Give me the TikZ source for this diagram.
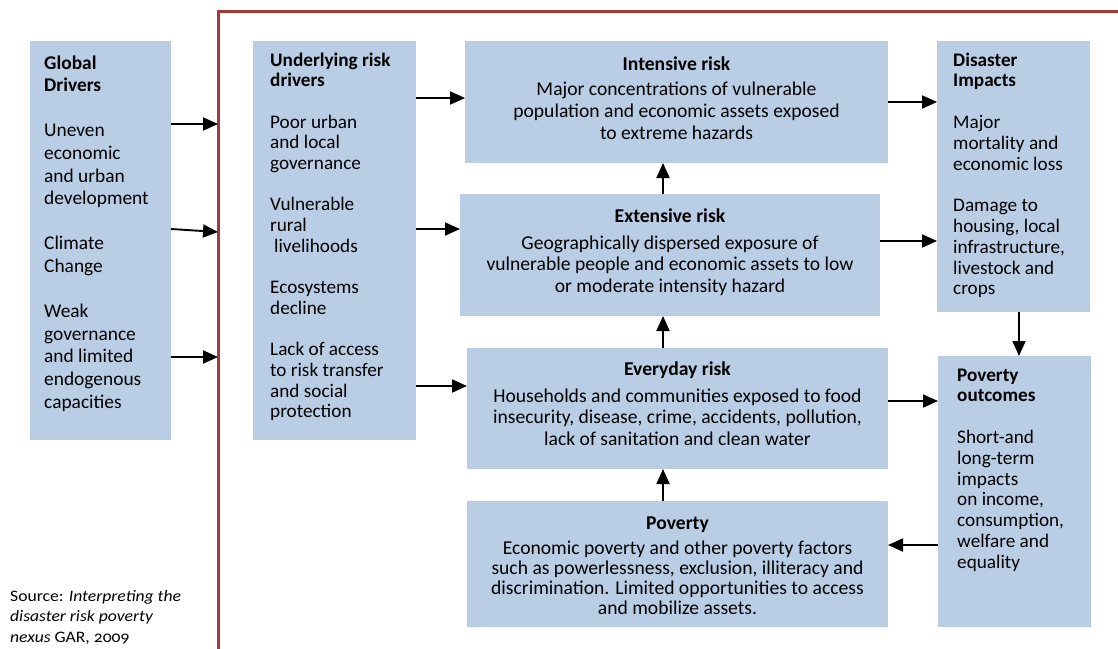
\documentclass[tikz,border=0pt]{standalone}
\usepackage{fontspec}
\setmainfont{Carlito}
\newfontfamily\srcfont[FakeStretch=1.1,Numbers=OldStyle]{Carlito}
\usetikzlibrary{arrows.meta}
\definecolor{boxblue}{HTML}{B9CDE5}
\definecolor{framered}{HTML}{A33B3B}
\begin{document}
\begin{tikzpicture}[x=1pt,y=-1pt,
  box/.style={fill=boxblue, draw=none, inner sep=0pt, outer sep=0pt, anchor=north west},
  arr/.style={line width=1.9pt, -{Triangle[length=15pt,width=13pt]}},
  lt/.style={inner sep=0pt, anchor=base west},
  ct/.style={inner sep=0pt, anchor=base}]
\useasboundingbox (0,0) rectangle (1118,648);
% frame
\coordinate (frb) at (218,650);
\coordinate (frt) at (218,11);
\coordinate (frr) at (1120,11);
\draw[framered, line width=3pt] (frb) -- (frt) -- (frr);
% boxes
\node[box, minimum width=141pt, minimum height=399pt] (gd) at (30,41) {};
\node[box, minimum width=163pt, minimum height=399pt] (ud) at (253,41) {};
\node[box, minimum width=423pt, minimum height=122pt] (in) at (465,41) {};
\node[box, minimum width=420pt, minimum height=122pt] (ex) at (460,194) {};
\node[box, minimum width=421pt, minimum height=121pt] (ev) at (467,348) {};
\node[box, minimum width=421pt, minimum height=126pt] (po) at (467,501) {};
\node[box, minimum width=153pt, minimum height=271pt] (di) at (937,41) {};
\node[box, minimum width=153pt, minimum height=271pt] (pos) at (938,356) {};
% texts
\node[lt] (gdt) at (44,69) {\fontsize{19.4}{22.6}\selectfont\parbox[t]{125pt}{\raggedright
  \textbf{Global}\\\textbf{Drivers}\\[22.6pt]
  Uneven\\economic\\and urban\\development\\[22.6pt]
  Climate\\Change\\[22.6pt]
  Weak\\governance\\and limited\\endogenous\\capacities}};
\node[lt] (udt) at (270,66) {\fontsize{19.2}{20.7}\selectfont\parbox[t]{145pt}{\raggedright
  \textbf{Underlying risk}\\\textbf{drivers}\\[20.7pt]
  Poor urban\\and local\\governance\\[20.7pt]
  Vulnerable\\rural\\\hspace*{4pt}livelihoods\\[20.7pt]
  Ecosystems\\decline\\[20.7pt]
  Lack of access\\to risk transfer\\and social\\protection}};
\node[lt] (dit) at (953,66) {\fontsize{19.2}{20.8}\selectfont\parbox[t]{135pt}{\raggedright
  \textbf{Disaster}\\\textbf{Impacts}\\[20.8pt]
  Major\\mortality and\\economic loss\\[20.8pt]
  Damage to\\housing, local\\infrastructure,\\livestock and\\crops}};
\node[lt] (post) at (957,381) {\fontsize{19.2}{20.8}\selectfont\parbox[t]{130pt}{\raggedright
  \textbf{Poverty}\\\textbf{outcomes}\\[20.8pt]
  Short-and\\long-term\\impacts\\on income,\\consumption,\\welfare and\\equality}};
\node[ct] (int) at (676.5,70) {\fontsize{19.6}{22}\selectfont\parbox[t]{415pt}{\centering
  \textbf{Intensive risk}\\[3pt]
  Major concentrations of vulnerable\\population and economic assets exposed\\to extreme hazards}};
\node[ct] (ext) at (670,222) {\fontsize{19.6}{21.5}\selectfont\parbox[t]{415pt}{\centering
  \textbf{Extensive risk}\\[5.5pt]
  Geographically dispersed exposure of\\vulnerable people and economic assets to low\\or moderate intensity hazard}};
\node[ct] (evt) at (677.5,375) {\fontsize{19.6}{21.5}\selectfont\parbox[t]{415pt}{\centering
  \textbf{Everyday risk}\\[5.5pt]
  Households and communities exposed to food\\insecurity, disease, crime, accidents, pollution,\\lack of sanitation and clean water}};
\node[ct] (pot) at (677.5,529) {\fontsize{19.6}{20.3}\selectfont\parbox[t]{415pt}{\centering
  \textbf{Poverty}\\[4.7pt]
  Economic poverty and other poverty factors\\such as powerlessness, exclusion, illiteracy and\\discrimination. Limited opportunities to access\\and mobilize assets.}};
\node[lt] (src) at (10,601) {\srcfont\fontsize{16}{20.5}\selectfont\parbox[t]{205pt}{\raggedright
  Source: \textit{Interpreting the}\\\textit{disaster risk poverty}\\\textit{nexus} GAR, 2009}};
% arrows
\draw[arr] ([yshift=-83pt]gd.north east) -- ([yshift=-113pt]frt);
\draw[arr] ([yshift=-188pt]gd.north east) -- ([yshift=-221pt]frt);
\draw[arr] ([yshift=-316pt]gd.north east) -- ([yshift=-346pt]frt);
\draw[arr] ([yshift=-57pt]ud.north east) coordinate (a1) -- (a1 -| in.west);
\draw[arr] ([yshift=-188pt]ud.north east) coordinate (a2) -- (a2 -| ex.west);
\draw[arr] ([yshift=-345pt]ud.north east) coordinate (a3) -- (a3 -| ev.west);
\draw[arr] ([yshift=-61pt]in.north east) coordinate (a4) -- (a4 -| di.west);
\draw[arr] ([yshift=-47pt]ex.north east) coordinate (a5) -- (a5 -| di.west);
\draw[arr] ([yshift=-53pt]ev.north east) coordinate (a6) -- (a6 -| pos.west);
\draw[arr] ([yshift=-189pt]pos.north west) coordinate (a7) -- (a7 -| po.east);
\draw[arr] ([xshift=-7pt]ex.north) coordinate (v1) -- (v1 |- in.south);
\draw[arr] ([xshift=-14.5pt]ev.north) coordinate (v2) -- (v2 |- ex.south);
\draw[arr] ([xshift=-14.5pt]po.north) coordinate (v3) -- (v3 |- ev.south);
\draw[arr] ([xshift=5.5pt]di.south) coordinate (v4) -- (v4 |- pos.north);
\end{tikzpicture}
\end{document}
